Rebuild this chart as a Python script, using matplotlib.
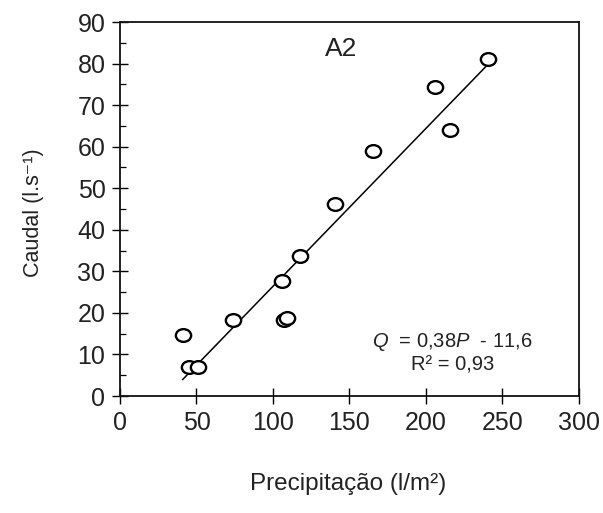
import numpy as np
import matplotlib
matplotlib.use('Agg')
from matplotlib import pyplot as plt, ticker
from matplotlib.path import Path
from matplotlib.transforms import Affine2D

plt.rcParams['font.family'] = ['Liberation Sans', 'DejaVu Sans']
plt.rcParams['mathtext.fontset'] = 'custom'
plt.rcParams['mathtext.rm'] = 'Liberation Sans'
plt.rcParams['mathtext.it'] = 'Liberation Sans:italic'

# precipitation (l/m2) vs discharge (l/s), station A2
precipitacao = [41.0, 44.8, 51.0, 73.7, 105.9, 107.1, 108.9, 117.7, 140.8, 165.5, 205.7, 215.7, 240.9]
caudal = [14.8, 7.0, 7.0, 18.2, 27.8, 18.2, 18.8, 33.6, 46.1, 59.0, 74.4, 64.0, 81.2]

# fitted line Q = 0.38 P - 11.6
slope = 0.38
intercept = -11.6

text_color = '#222222'

# slightly flattened circle, as in the scanned figure
oval = Path.unit_circle().transformed(Affine2D().scale(1.2, 1.0))

fig = plt.figure(figsize=(6.03, 5.13), dpi=100)
ax = fig.add_axes([0.199, 0.228, 0.761, 0.729])

ax.plot(precipitacao, caudal, linestyle='none', marker=oval, markersize=11,
        markerfacecolor='white', markeredgecolor='black', markeredgewidth=1.7, zorder=3)

x_fit = np.array([min(precipitacao), max(precipitacao)])
ax.plot(x_fit, slope * x_fit + intercept, color='black', linewidth=1.1, zorder=2)

ax.set_xlim(0, 300)
ax.set_ylim(0, 90)
ax.xaxis.set_major_locator(ticker.MultipleLocator(50))
ax.yaxis.set_major_locator(ticker.MultipleLocator(10))
ax.yaxis.set_minor_locator(ticker.MultipleLocator(5))

for spine in ax.spines.values():
    spine.set_linewidth(1.3)
    spine.set_color('#111111')

ax.tick_params(axis='both', which='major', direction='inout', length=11, width=1.0,
               labelsize=18, labelcolor=text_color)
ax.tick_params(axis='y', which='major', pad=5)
ax.tick_params(axis='x', which='major', pad=5)
ax.tick_params(axis='y', which='minor', direction='in', length=4, width=0.9)

ax.set_xlabel('Precipitação (l/m²)', fontsize=17.5, color=text_color)
ax.set_ylabel('Caudal (l.s⁻¹)', fontsize=15.5, color=text_color)
ax.xaxis.set_label_coords(0.497, -0.205)
ax.yaxis.set_label_coords(-0.165, 0.49)

ax.text(144.5, 83.5, 'A2', fontsize=19, ha='center', va='center', color=text_color)
ax.text(217.5, 13.0, r'$Q$  = 0,38$P$  - 11,6', fontsize=14.5, ha='center', va='center', color=text_color)
ax.text(217.5, 7.4, 'R² = 0,93', fontsize=14.5, ha='center', va='center', color=text_color)

fig.savefig('out.png', dpi=100)
